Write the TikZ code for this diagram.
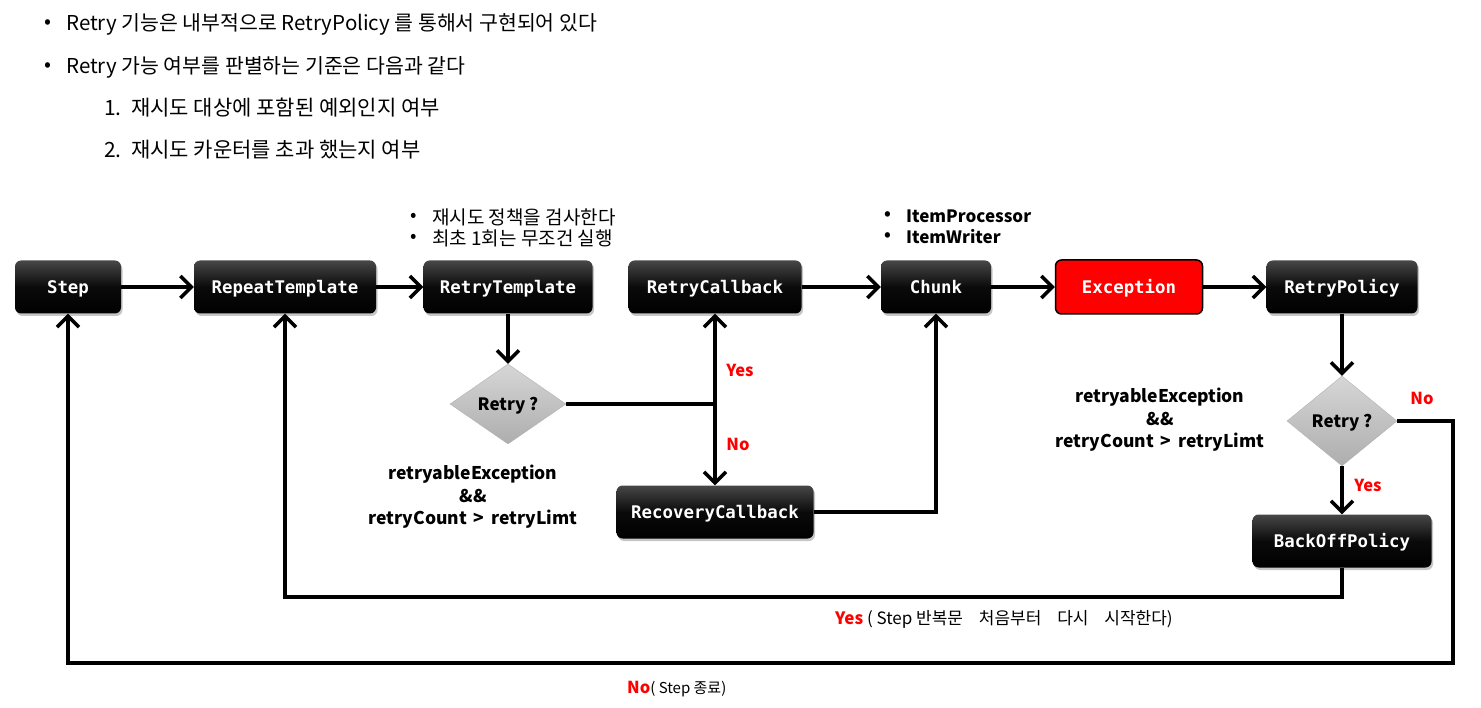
\documentclass[tikz,border=0pt]{standalone}
\usepackage{fontspec}
\setmainfont{Noto Sans CJK KR}
\newfontfamily\boxfont{DejaVu Sans Mono}
\usetikzlibrary{arrows.meta,shapes.geometric,shadows,calc}
\definecolor{dred}{RGB}{255,0,0}
\tikzset{
  blk/.style={rounded corners=6pt, top color=black!72, bottom color=black, middle color=black!96,
    text=white, font=\boxfont\bfseries\fontsize{17.4}{19}\selectfont, minimum height=53pt, inner sep=0pt,
    text height=14pt, text depth=1.3pt,
    drop shadow={opacity=0.45, shadow xshift=1.5pt, shadow yshift=-2.5pt}},
  exc/.style={rounded corners=6pt, fill=dred, draw=black, line width=1.5pt,
    text=white, font=\boxfont\bfseries\fontsize{17.4}{19}\selectfont, minimum height=54pt, inner sep=0pt,
    text height=14pt, text depth=1.3pt},
  dia/.style={shape=diamond, top color=black!16, bottom color=black!32, draw=black!30, line width=0.4pt,
    inner sep=0pt, font=\bfseries\fontsize{17}{19}\selectfont, text height=14pt, text depth=1.6pt},
  arr/.style={line width=3.5pt, -{Straight Barb[length=11pt,width=22pt]}},
  ln/.style={line width=3.5pt},
  txt/.style={anchor=west, inner sep=0pt, font=\fontsize{20.5}{24}\selectfont},
  txtb/.style={anchor=west, inner sep=0pt, font=\fontsize{21}{24}\selectfont},
  ann/.style={anchor=west, inner sep=0pt, font=\fontsize{19}{21}\selectfont},
  annb/.style={anchor=west, inner sep=0pt, font=\bfseries\fontsize{17}{20}\selectfont},
  cond/.style={align=center, inner sep=0pt, font=\bfseries\fontsize{17.5}{22.5}\selectfont},
  lab/.style={text=dred, inner sep=0pt, font=\bfseries\fontsize{16.5}{18}\selectfont},
}
\begin{document}
\begin{tikzpicture}[x=1pt,y=-1pt]
\useasboundingbox (0,0) rectangle (1481,708);
% top text
\node[txt] (b1) at (44,24) {•};
\node[txt] (t1) at (66,24) {Retry 기능은 내부적으로 RetryPolicy 를 통해서 구현되어 있다};
\node[txt] (b2) at (44,67) {•};
\node[txt] (t2) at (66,67) {Retry 가능 여부를 판별하는 기준은 다음과 같다};
\node[txtb] (n1) at (104,108) {1.};
\node[txtb] (t3) at (131,108) {재시도 대상에 포함된 예외인지 여부};
\node[txtb] (n2) at (104,150) {2.};
\node[txtb] (t4) at (131,150) {재시도 카운터를 초과 했는지 여부};

% boxes
\node[blk, minimum width=106pt] (step) at (68,287) {Step};
\node[blk, minimum width=182pt] (rep) at (285,287) {RepeatTemplate};
\node[blk, minimum width=169pt] (rtt) at (508,287) {RetryTemplate};
\node[blk, minimum width=173pt] (rcb) at (715,287) {RetryCallback};
\node[blk, minimum width=110pt] (chunk) at (936,287) {Chunk};
\node[exc, minimum width=147pt] (ex) at (1129,287) {Exception};
\node[blk, minimum width=151pt] (rp) at (1342,287) {RetryPolicy};
\node[blk, minimum width=197pt] (rec) at (715,512) {RecoveryCallback};
\node[blk, minimum width=179pt] (bo) at (1342,541) {BackOffPolicy};
\node[dia, minimum width=116pt, minimum height=80pt, aspect=1.45] (d1) at (508,404) {Retry ?};
\node[dia, minimum width=110pt, minimum height=90pt, aspect=1.22] (d2) at (1342,421) {Retry ?};

% annotations
\node[ann] (a1b) at (410,217) {•};
\node[ann] (a1) at (432,217) {재시도 정책을 검사한다};
\node[ann] (a2b) at (410,238) {•};
\node[ann] (a2) at (432,238) {최초 1회는 무조건 실행};
\node[annb] (c1b) at (884,216) {•};
\node[annb] (c1) at (906,216) {ItemProcessor};
\node[annb] (c2b) at (884,237) {•};
\node[annb] (c2) at (906,237) {ItemWriter};
\node[cond] (cond1) at (473,497) {retryableException\\\&\&\\retryCount \,>\, retryLimt};
\node[cond] (cond2) at (1160,420) {retryableException\\\&\&\\retryCount \,>\, retryLimt};

% connectors
\coordinate (j) at (715,404);
\coordinate (r1) at (1453,663);
\coordinate (r2) at (800,597);
\draw[arr] (step) -- (rep);
\draw[arr] (rep) -- (rtt);
\draw[arr] (rtt) -- (d1);
\draw[ln] (d1.east) -- (j);
\draw[arr] (j) -- (rcb.south);
\draw[arr] (j) -- (rec.north);
\draw[arr] (rcb) -- (chunk);
\draw[arr] (rec.east) -| (chunk.south);
\draw[arr] (chunk) -- (ex);
\draw[arr] (ex) -- (rp);
\draw[arr] (rp) -- (d2);
\draw[arr] (d2) -- (bo);
\draw[arr] (d2.east) -| (r1) -| (step.south);
\draw[arr] (bo.south) |- (r2) -| (rep.south);

% labels
\node[lab] (ly1) at (740,370) {Yes};
\node[lab] (ln1) at (738,444) {No};
\node[lab] (ly2) at (1368,485) {Yes};
\node[lab] (ln2) at (1422,398) {No};
\node[anchor=west, inner sep=0pt, font=\fontsize{17}{19}\selectfont] (bl1) at (835,619) {\textcolor{dred}{\bfseries Yes} ( Step 반복문\hspace{12pt} 처음부터\hspace{12pt} 다시\hspace{12pt} 시작한다)};
\node[anchor=west, inner sep=0pt, font=\fontsize{15}{18}\selectfont] (bl2) at (627,689) {\textcolor{dred}{\bfseries\fontsize{16.5}{18}\selectfont No}( Step 종료)};
\end{tikzpicture}
\end{document}
